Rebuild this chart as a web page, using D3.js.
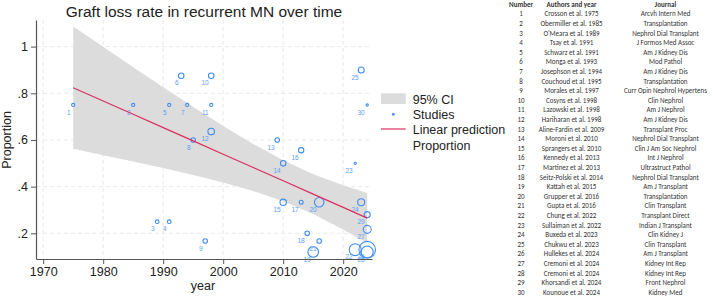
<!DOCTYPE html>
<html><head><meta charset="utf-8">
<script src="https://cdn.jsdelivr.net/npm/d3@7/dist/d3.min.js"></script>
<style>
body{margin:0;background:#fff;}
svg{display:block;font-family:"Liberation Sans",Arial,sans-serif;}
</style>
</head><body>
<svg id="chart" width="713" height="297"></svg>
<script>
// ---------- DATA ----------
const studyNumber = [1,2,3,4,5,6,7,8,9,10,11,12,13,14,15,16,17,18,19,20,21,22,23,24,25,26,27,28,29,30];
const authors = ["Crosson et al. 1975","Obermiller et al. 1985","O'Meara et al. 1989","Tsay et al. 1991","Schwarz et al. 1991","Monga et al. 1993","Josephson et al. 1994","Couchoud et al. 1995","Morales et al. 1997","Cosyns et al. 1998","Lazowski et al. 1998","Hariharan et al. 1998","Aline-Fardin et al. 2009","Moroni et al. 2010","Sprangers et al. 2010","Kennedy et al. 2013","Martinez et al. 2013","Seitz-Polski et al. 2014","Kattah et al. 2015","Grupper et al. 2016","Gupta et al. 2016","Chung et al. 2022","Sullaiman et al. 2022","Buxeda et al. 2023","Chukwu et al. 2023","Hullekes et al. 2024","Cremoni et al. 2024","Cremoni et al. 2024","Khorsandi et al. 2024","Kounoue et al. 2024"];
const journals = ["Arcvh Intern Med","Transplantation","Nephrol Dial Transplant","J Formos Med Assoc","Am J Kidney Dis","Mod Pathol","Am J Kidney Dis","Transplantation","Curr Opin Nephrol Hypertens","Clin Nephrol","Am J Nephrol","Am J Kidney Dis","Transplant Proc","Nephrol Dial Transplant","Clin J Am Soc Nephrol","Int J Nephrol","Ultrastruct Pathol","Nephrol Dial Transplant","Am J Transplant","Transplantation","Clin Transplant","Transplant Direct","Indian J Transplant","Clin Kidney J","Clin Transplant","Am J Transplant","Kidney Int Rep","Kidney Int Rep","Front Nephrol","Kidney Med"];
const years = [1975,1985,1989,1991,1991,1993,1994,1995,1997,1998,1998,1998,2009,2010,2010,2013,2013,2014,2015,2016,2016,2022,2022,2023,2023,2024,2024,2024,2024,2024];
const proportion = [0.75,0.75,0.25,0.25,0.75,0.875,0.75,0.6,0.167,0.875,0.75,0.636,0.6,0.5,0.333,0.556,0.333,0.2,0.12,0.333,0.167,0.13,0.5,0.333,0.9,0.13,0.217,0.12,0.28,0.75];
const weight = [4,4,5,5,4,12,4,8,8,12,4,17,8,12,16,11,6,8,44,35,8,56,2,19,14,108,25,56,14,2];
// linear prediction and its 95% CI
const fitYears = [1975,1980,1985,1990,1995,2000,2005,2010,2015,2020,2024];
const fitValue = [0.824,0.767,0.710,0.653,0.596,0.539,0.482,0.425,0.368,0.311,0.265];
const ciLower  = [0.562,0.535,0.508,0.480,0.450,0.418,0.381,0.337,0.283,0.216,0.157];
const ciUpper  = [1.086,0.999,0.912,0.826,0.742,0.660,0.583,0.513,0.453,0.406,0.373];
const xTicks = [1970,1980,1990,2000,2010,2020];
const yTicks = [0.2,0.4,0.6,0.8,1];
const yTickLabels = [".2",".4",".6",".8","1"];
const legendLabels = ["95% CI","Studies","Linear prediction","Proportion"];
const tableHeaders = ["Number","Authors and year","Journal"];
const title = "Graft loss rate in recurrent MN over time";

// ---------- DRAW ----------
const svg = d3.select("#chart");
const x = d3.scaleLinear().domain([1968.8, 2024.8]).range([36, 372]);
const y = d3.scaleLinear().domain([0.09, 1.114]).range([259, 20]);
const r = d3.scaleSqrt().domain([0, 100]).range([0, 8]);

const markerColor = "#3f8ef0";
const labelColor = "#5aa0f5";
const lineColor = "#dd2e62";
const bandColor = "#dcdcdc";

// grid
const grid = svg.append("g");
grid.selectAll(".gx").data(xTicks).join("line")
  .attr("x1", d => x(d)).attr("x2", d => x(d)).attr("y1", y.range()[1]).attr("y2", y.range()[0])
  .attr("stroke", "#e4e4e4").attr("stroke-dasharray", "4,3").attr("stroke-width", 0.8);
grid.selectAll(".gy").data(yTicks).join("line")
  .attr("y1", d => y(d)).attr("y2", d => y(d)).attr("x1", x.range()[0]).attr("x2", x.range()[1])
  .attr("stroke", "#e4e4e4").attr("stroke-dasharray", "4,3").attr("stroke-width", 0.8);

// CI band
const bandData = fitYears.map((yr, i) => ({yr, lo: ciLower[i], hi: ciUpper[i], f: fitValue[i]}));
svg.append("path").datum(bandData)
  .attr("d", d3.area().x(d => x(d.yr)).y0(d => y(d.lo)).y1(d => y(d.hi)))
  .attr("fill", bandColor);

// points
const pts = years.map((yr, i) => ({yr, p: proportion[i], w: weight[i], n: studyNumber[i]}));
svg.append("g").selectAll("circle").data(pts).join("circle")
  .attr("cx", d => x(d.yr)).attr("cy", d => y(d.p)).attr("r", d => r(d.w))
  .attr("fill", "none").attr("stroke", markerColor).attr("stroke-width", 1.1);
svg.append("g").selectAll("text").data(pts).join("text")
  .attr("x", d => x(d.yr) - 2.5).attr("y", d => y(d.p) + 9.7)
  .attr("text-anchor", "end").attr("font-size", 6.5).attr("fill", labelColor)
  .text(d => d.n);

// fit line
svg.append("path").datum(bandData)
  .attr("d", d3.line().x(d => x(d.yr)).y(d => y(d.f)))
  .attr("fill", "none").attr("stroke", lineColor).attr("stroke-width", 1.2);

// axes
const axisColor = "#555";
const yAxis = svg.append("g").attr("transform", `translate(${x.range()[0]},0)`)
  .call(d3.axisLeft(y).tickValues(yTicks).tickFormat((d, i) => yTickLabels[i]).tickSize(5).tickSizeOuter(0).tickPadding(3));
const xAxis = svg.append("g").attr("transform", `translate(0,${y.range()[0]})`)
  .call(d3.axisBottom(x).tickValues(xTicks).tickFormat(d3.format("d")).tickSize(5).tickSizeOuter(0).tickPadding(3));
[xAxis, yAxis].forEach(a => {
  a.select(".domain").attr("stroke", axisColor).attr("stroke-width", 1.2);
  a.selectAll(".tick line").attr("stroke", axisColor);
  a.selectAll(".tick text").attr("font-size", 12.5).attr("fill", "#222").attr("font-family", "Liberation Sans, Arial, sans-serif");
});

// titles
svg.append("text").attr("x", 204).attr("y", 17).attr("text-anchor", "middle")
  .attr("font-size", 15.5).attr("fill", "#222").text(title);
svg.append("text").attr("x", 203).attr("y", 290).attr("text-anchor", "middle")
  .attr("font-size", 12.5).attr("fill", "#222").text("year");
svg.append("text").attr("transform", `translate(11,${y(0.6)}) rotate(-90)`).attr("text-anchor", "middle")
  .attr("font-size", 12.5).attr("fill", "#222").text("Proportion");

// legend
const lg = svg.append("g");
lg.append("rect").attr("x", 381).attr("y", 93.3).attr("width", 24.7).attr("height", 10.7).attr("fill", bandColor);
lg.append("circle").attr("cx", 393.3).attr("cy", 114.3).attr("r", 1.4).attr("fill", markerColor);
lg.append("line").attr("x1", 381).attr("x2", 405.7).attr("y1", 129).attr("y2", 129).attr("stroke", lineColor).attr("stroke-width", 1.2);
const lgY = [103.5, 118.8, 133.5, 150];
lg.selectAll("text").data(legendLabels).join("text")
  .attr("x", 412.7).attr("y", (d, i) => lgY[i]).attr("font-size", 12.5).attr("fill", "#222").text(d => d);

// table
const tbl = svg.append("g").attr("font-family", "Carlito, 'Liberation Sans Narrow', 'Liberation Sans', sans-serif").attr("fill", "#333");
const colX = [521, 571.5, 665.5];
function tText(cx, cy, s, bold) {
  tbl.append("text").attr("x", cx).attr("y", cy + 2.4)
    .attr("text-anchor", "middle").attr("font-size", 7).attr("font-weight", bold ? "bold" : "normal").text(s);
}
tableHeaders.forEach((h, j) => tText(colX[j], 4.7, h, true));
studyNumber.forEach((n, i) => {
  const cy = 14 + i * 9.6;
  tText(colX[0], cy, String(n));
  tText(colX[1], cy, authors[i]);
  tText(colX[2], cy, journals[i]);
});
</script>
</body></html>
